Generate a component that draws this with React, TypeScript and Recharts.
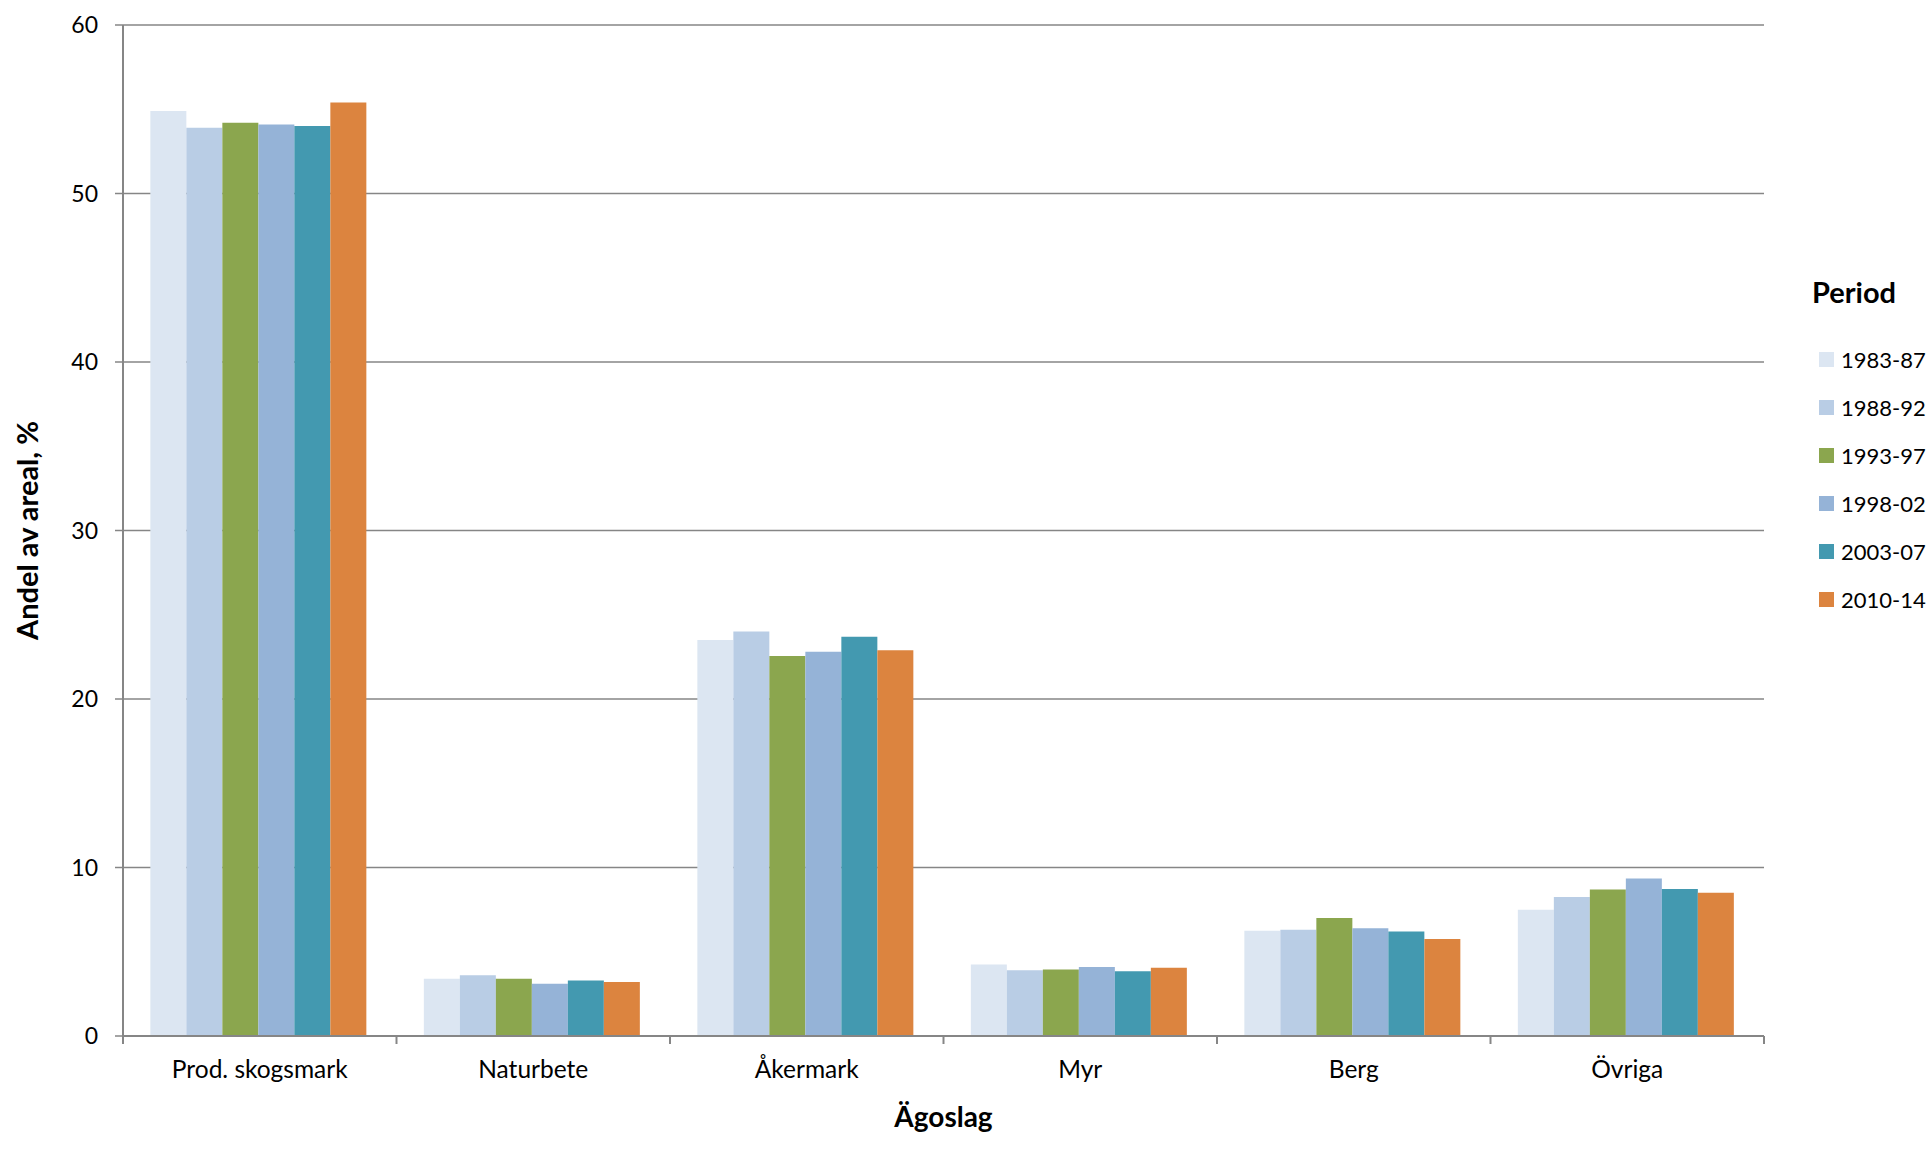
import React from 'react';
import { BarChart, Bar, XAxis, YAxis, CartesianGrid, Label } from 'recharts';

const categories = ['Prod. skogsmark', 'Naturbete', 'Åkermark', 'Myr', 'Berg', 'Övriga'];
const periods = ['1983-87', '1988-92', '1993-97', '1998-02', '2003-07', '2010-14'];
const colors = ['#DCE6F2', '#B9CDE5', '#8BA64E', '#95B3D7', '#4399B0', '#DC843F'];

const s1983_87 = [54.9, 3.4, 23.5, 4.25, 6.25, 7.5];
const s1988_92 = [53.9, 3.6, 24.0, 3.9, 6.3, 8.25];
const s1993_97 = [54.2, 3.4, 22.55, 3.95, 7.0, 8.7];
const s1998_02 = [54.1, 3.1, 22.8, 4.1, 6.4, 9.35];
const s2003_07 = [54.0, 3.3, 23.7, 3.85, 6.2, 8.72];
const s2010_14 = [55.4, 3.2, 22.9, 4.05, 5.75, 8.5];

const seriesValues = [s1983_87, s1988_92, s1993_97, s1998_02, s2003_07, s2010_14];
const yTicks = [0, 10, 20, 30, 40, 50, 60];

const data = categories.map((c, i) => {
  const row: any = { name: c };
  periods.forEach((p, j) => {
    row[p] = seriesValues[j][i];
  });
  return row;
});

const FONT = 'Lato, Carlito, Calibri, sans-serif';
const AXIS = '#868686';

const XTick = (props: any) => {
  const { x, y, payload, index, visibleTicksCount } = props;
  const off = payload && payload.offset ? payload.offset : 0;
  return (
    <g>
      <line x1={x - off} x2={x - off} y1={y} y2={y + 8} stroke={AXIS} strokeWidth={2} />
      {index === visibleTicksCount - 1 ? (
        <line x1={x + off} x2={x + off} y1={y} y2={y + 8} stroke={AXIS} strokeWidth={2} />
      ) : null}
      <text x={x} y={y + 42} textAnchor="middle" fontFamily={FONT} fontSize={24.5} fill="#000">
        {payload.value}
      </text>
    </g>
  );
};

const LegendBox = () => (
  <div style={{ position: 'absolute', left: 1812, top: 272, width: 117, fontFamily: FONT, color: '#000' }}>
    <div style={{ height: 40, lineHeight: '40px', fontSize: 29, fontWeight: 700 }}>Period</div>
    <div style={{ marginTop: 23 }}>
      {periods.map((p, j) => (
        <div key={p} style={{ height: 48, display: 'flex', alignItems: 'center', marginLeft: 7 }}>
          <div style={{ width: 15, height: 15, background: colors[j], marginRight: 7, flex: 'none' }} />
          <span style={{ fontSize: 22, whiteSpace: 'nowrap' }}>{p}</span>
        </div>
      ))}
    </div>
  </div>
);

export default function App() {
  return (
    <div style={{ position: 'absolute', left: 0, top: 0, width: 1929, height: 1160, background: '#fff', overflow: 'hidden' }}>
      <BarChart
        width={1929}
        height={1160}
        data={data}
        margin={{ top: 25, right: 165, bottom: 0, left: 0 }}
        barCategoryGap="10%"
        barGap={0}
      >
        <CartesianGrid vertical={false} stroke={AXIS} strokeWidth={1.5} />
        <XAxis
          dataKey="name"
          height={124}
          axisLine={{ stroke: AXIS, strokeWidth: 2 }}
          tickLine={false}
          tickSize={0}
          tickMargin={0}
          tick={<XTick />}
          interval={0}
        >
          <Label
            content={(p: any) => {
              const vb = p.viewBox;
              return (
                <text x={vb.x + vb.width / 2} y={1127} textAnchor="middle" fontFamily={FONT} fontSize={28} fontWeight={700} fill="#000">
                  Ägoslag
                </text>
              );
            }}
          />
        </XAxis>
        <YAxis
          width={123}
          domain={[0, 60]}
          ticks={yTicks}
          interval={0}
          axisLine={{ stroke: AXIS, strokeWidth: 2 }}
          tickLine={{ stroke: AXIS, strokeWidth: 1.5 }}
          tickSize={8}
          tickMargin={17}
          tick={{ fontFamily: FONT, fontSize: 23, fill: '#000' }}
        >
          <Label
            content={(p: any) => {
              const vb = p.viewBox;
              const cy = vb.y + vb.height / 2;
              return (
                <text x={38} y={cy} transform={`rotate(-90, 38, ${cy})`} textAnchor="middle" fontFamily={FONT} fontSize={29} fontWeight={700} fill="#000">
                  Andel av areal, %
                </text>
              );
            }}
          />
        </YAxis>
        {periods.map((p, j) => (
          <Bar key={p} dataKey={p} name={p} fill={colors[j]} isAnimationActive={false} />
        ))}
      </BarChart>
      <LegendBox />
    </div>
  );
}
